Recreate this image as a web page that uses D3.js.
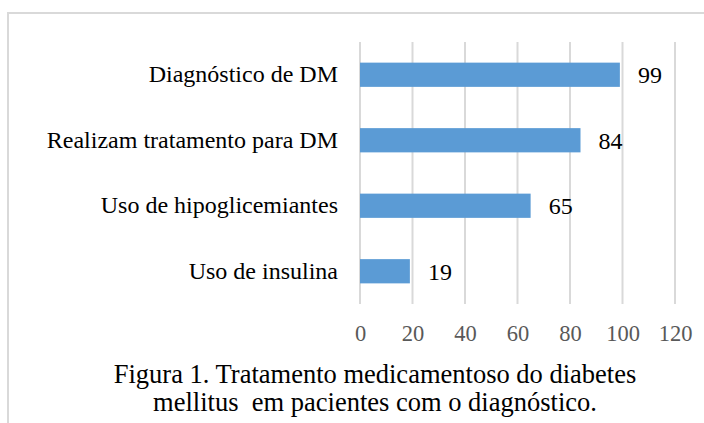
<!DOCTYPE html>
<html>
<head>
<meta charset="utf-8">
<script src="https://cdn.jsdelivr.net/npm/d3@7"></script>
<style>
  html, body { margin: 0; padding: 0; background: #fff; }
  svg { display: block; }
</style>
</head>
<body>
<svg id="chart" width="704" height="423"></svg>
<script>
const categories = ["Diagnóstico de DM", "Realizam tratamento para DM", "Uso de hipoglicemiantes", "Uso de insulina"];
const values = [99, 84, 65, 19];
const tickValues = [0, 20, 40, 60, 80, 100, 120];
const titleLines = ["Figura 1. Tratamento medicamentoso do diabetes", "mellitus\u00a0 em pacientes com o diagnóstico."];

const svg = d3.select("#chart");
const serif = "'Liberation Serif', 'Times New Roman', serif";

// outer border (frame cut by page edges)
svg.append("rect")
  .attr("x", 8).attr("y", 13)
  .attr("width", 720).attr("height", 440)
  .attr("fill", "none").attr("stroke", "#d9d9d9").attr("stroke-width", 2);

const x = d3.scaleLinear().domain([0, 120]).range([360, 675]);
const y = d3.scaleBand().domain(categories).range([42, 304]).paddingInner(0.63).paddingOuter(0.315);

// gridlines
svg.append("g").selectAll("line").data(tickValues).join("line")
  .attr("x1", d => x(d)).attr("x2", d => x(d))
  .attr("y1", 42).attr("y2", 304)
  .attr("stroke", "#d9d9d9").attr("stroke-width", 2);

// bars
svg.append("g").selectAll("rect").data(values).join("rect")
  .attr("x", x(0))
  .attr("y", (d, i) => y(categories[i]))
  .attr("width", d => x(d) - x(0))
  .attr("height", y.bandwidth())
  .attr("fill", "#5b9bd5");

// value labels
svg.append("g").selectAll("text").data(values).join("text")
  .attr("x", d => x(d) + 18)
  .attr("y", (d, i) => y(categories[i]) + y.bandwidth() / 2)
  .attr("dy", "0.35em")
  .attr("font-family", serif).attr("font-size", 24).attr("fill", "#000")
  .text(d => d);

// category axis labels
const yAxis = d3.axisLeft(y).tickSize(0).tickPadding(22);
const gy = svg.append("g").attr("transform", `translate(${x(0)},0)`).call(yAxis);
gy.select(".domain").remove();
gy.selectAll("text").attr("font-family", serif).attr("font-size", 24).attr("fill", "#000");

// x axis tick labels
const xAxis = d3.axisBottom(x).tickValues(tickValues).tickSize(0).tickPadding(21);
const gx = svg.append("g").attr("transform", "translate(0,304)").call(xAxis);
gx.select(".domain").remove();
gx.selectAll("text").attr("font-family", serif).attr("font-size", 22.5).attr("fill", "#595959");

// title
svg.append("g").selectAll("text").data(titleLines).join("text")
  .attr("x", 375)
  .attr("y", (d, i) => 383 + i * 28)
  .attr("text-anchor", "middle")
  .attr("font-family", serif).attr("font-size", 26.5).attr("fill", "#000")
  .text(d => d);
</script>
</body>
</html>
